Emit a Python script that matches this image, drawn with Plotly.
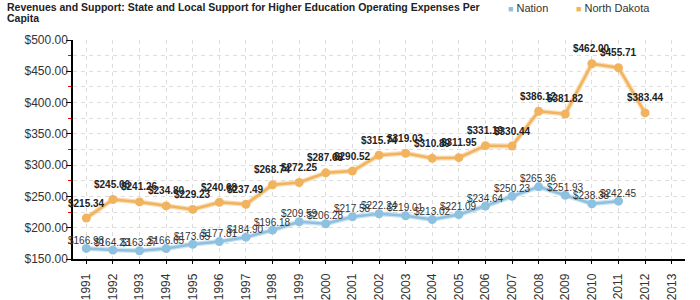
import plotly.graph_objects as go

years = list(range(1991, 2014))
nation_years = list(range(1991, 2012))
nation = [166.98, 164.23, 163.27, 166.65, 173.65, 177.81, 184.90, 196.18, 209.59, 206.28,
          217.58, 222.24, 219.01, 213.02, 221.09, 234.64, 250.23, 265.36, 251.93, 238.38, 242.45]
nd_years = list(range(1991, 2013))
north_dakota = [215.34, 245.06, 241.26, 234.80, 229.23, 240.68, 237.49, 268.74, 272.25, 287.68,
                290.52, 315.74, 319.03, 310.89, 311.95, 331.19, 330.44, 386.12, 381.82, 462.00,
                455.71, 383.44]
title_lines = ["Revenues and Support: State and Local Support for Higher Education Operating Expenses Per",
               "Capita"]

BLUE = "#8EC0E0"
BLUE_HALO = "rgba(142,192,224,0.45)"
ORANGE = "#F2B35E"
ORANGE_HALO = "rgba(242,179,94,0.45)"
FONT = "Liberation Sans, Arial, sans-serif"

fig = go.Figure()
for xs, ys, col, halo, name in [(nation_years, nation, BLUE, BLUE_HALO, "Nation"),
                                (nd_years, north_dakota, ORANGE, ORANGE_HALO, "North Dakota")]:
    fig.add_trace(go.Scatter(x=xs, y=ys, mode="lines", line=dict(color=halo, width=5),
                             showlegend=False, hoverinfo="skip"))
    fig.add_trace(go.Scatter(x=xs, y=ys, mode="lines+markers", name=name,
                             line=dict(color=col, width=2.5),
                             marker=dict(color=col, size=9), showlegend=False))

annotations = []
for x, y in zip(nation_years, nation):
    annotations.append(dict(x=x, y=y, xref="x", yref="y", text=f"${y:.2f}", showarrow=False,
                            yshift=8, font=dict(family=FONT, size=10, color="#333333")))
for x, y in zip(nd_years, north_dakota):
    annotations.append(dict(x=x, y=y, xref="x", yref="y", text=f"<b>${y:.2f}</b>", showarrow=False,
                            yshift=15, font=dict(family=FONT, size=10, color="#222222")))

# title (two lines)
annotations.append(dict(x=5, y=7.5, xref="paper", yref="paper", text=f"<b>{title_lines[0]}</b>",
                        showarrow=False, xanchor="left", yanchor="middle",
                        font=dict(family=FONT, size=10.5, color="#222222")))
annotations.append(dict(x=5, y=17.5, xref="paper", yref="paper", text=f"<b>{title_lines[1]}</b>",
                        showarrow=False, xanchor="left", yanchor="middle",
                        font=dict(family=FONT, size=10.5, color="#222222")))
# legend
annotations.append(dict(x=506, y=8, xref="paper", yref="paper",
                        text=f"<span style='color:{BLUE};font-size:9px'>■</span> Nation", showarrow=False,
                        xanchor="left", yanchor="middle",
                        font=dict(family=FONT, size=11, color="#333333")))
annotations.append(dict(x=574, y=8, xref="paper", yref="paper",
                        text=f"<span style='color:{ORANGE};font-size:9px'>■</span> North Dakota", showarrow=False,
                        xanchor="left", yanchor="middle",
                        font=dict(family=FONT, size=11, color="#333333")))

L, R, T, B = 73, 15, 40, 41
W, H = 700, 300
pw, ph = W - L - R, H - T - B
for a in annotations[-4:]:
    a["x"] = (a["x"] - L) / pw
    a["y"] = (H - B - a["y"]) / ph

fig.update_layout(
    width=W, height=H, margin=dict(l=L, r=R, t=T, b=B, autoexpand=False),
    paper_bgcolor="white", plot_bgcolor="white",
    font=dict(family=FONT, color="#333333"),
    annotations=annotations, showlegend=False,
    xaxis=dict(range=[1990.5, 2013.5], tickmode="array", tickvals=years,
               ticktext=[str(y) for y in years], tickangle=-90, automargin=False,
               showgrid=True, gridcolor="#dddddd", griddash="4px,4px", gridwidth=1,
               showline=True, linecolor="black", linewidth=1.5,
               ticks="outside", ticklen=3, tickcolor="black", ticklabelstandoff=5,
               tickfont=dict(size=12, color="#333333"), zeroline=False),
    yaxis=dict(range=[150, 500], dtick=50, tick0=0, tickprefix="$", tickformat=",.2f",
               automargin=False,
               showgrid=True, gridcolor="#dddddd", griddash="4px,4px", gridwidth=1,
               showline=True, linecolor="black", linewidth=1.5,
               ticks="outside", ticklen=5, tickcolor="black", ticklabelstandoff=-4,
               tickfont=dict(size=12, color="#333333"), zeroline=False,
               minor=dict(dtick=25, ticks="outside", ticklen=3, tickcolor="red", tickwidth=1,
                          showgrid=True, gridcolor="#dddddd", griddash="4px,4px")),
)

fig.write_html("out.html")
